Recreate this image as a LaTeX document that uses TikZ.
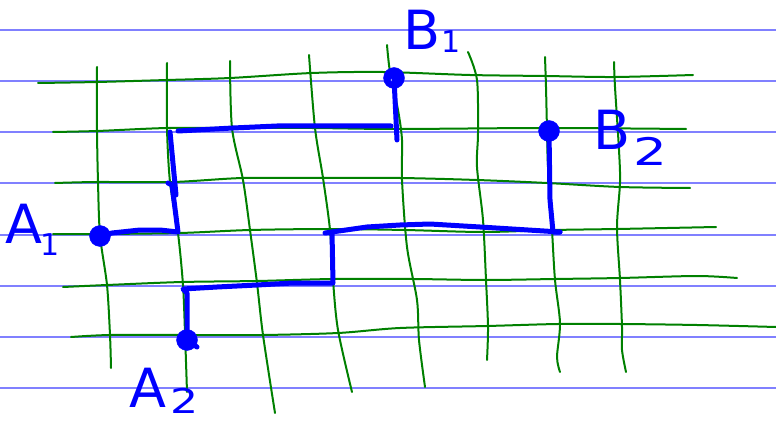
\documentclass[tikz,border=0pt]{standalone}
\usepackage{fontspec}
\setmainfont{DejaVu Sans}
\definecolor{note}{RGB}{128,128,255}
\definecolor{grn}{RGB}{0,128,0}
\definecolor{pen}{RGB}{0,0,255}
\begin{document}
\begin{tikzpicture}[x=1pt,y=-1pt,
  notebook/.style={note, line width=1.2pt},
  gridline/.style={grn, line width=2pt, line cap=round, line join=round},
  penline/.style={pen, line width=5pt, line cap=round, line join=round},
  dotnode/.style={circle, fill=pen, draw=pen, inner sep=0pt, minimum size=21pt},
  lbl/.style={pen, inner sep=0pt, anchor=base west, font=\fontsize{54}{54}\selectfont}]
\useasboundingbox (0,0) rectangle (776,422);
% notebook lines
\foreach \yy in {30,81,132,183,235,286,337,388}
  \draw[notebook] (0,\yy) -- (776,\yy);
% green horizontal lines
\draw[gridline] plot[smooth, tension=0.5] coordinates {(38,83) (97,82) (167,80) (230,78) (312,73) (383,72) (470,75) (545,76) (614,77) (693,75)};
\draw[gridline] plot[smooth, tension=0.5] coordinates {(53,132) (97,131) (167,128) (233,128) (312,128) (397,129) (545,128) (686,129)};
\draw[gridline] plot[smooth, tension=0.5] coordinates {(55,183) (97,182) (173,182) (243,178) (323,178) (400,178) (477,180) (547,183) (620,187) (690,188)};
\draw[gridline] plot[smooth, tension=0.5] coordinates {(53,234) (100,234) (180,233) (250,230) (330,229) (405,230) (483,232) (553,230) (617,229) (716,227)};
\draw[gridline] plot[smooth, tension=0.5] coordinates {(63,287) (107,285) (182,282) (257,281) (333,279) (413,279) (485,280) (555,279) (620,278) (697,276) (737,278)};
\draw[gridline] plot[smooth, tension=0.5] coordinates {(71,337) (110,335) (185,335) (262,335) (338,333) (400,328) (487,326) (558,324) (620,324) (697,325) (776,327)};
% green vertical lines
\draw[gridline] plot[smooth, tension=0.5] coordinates {(97,67) (97,130) (98,182) (100,235) (107,285) (110,335) (111,368)};
\draw[gridline] plot[smooth, tension=0.5] coordinates {(167,63) (167,128) (170,182) (178,233) (183,285) (185,333) (187,392)};
\draw[gridline] plot[smooth, tension=0.5] coordinates {(230,61) (232,128) (243,180) (250,230) (257,283) (263,335) (275,413)};
\draw[gridline] plot[smooth, tension=0.5] coordinates {(309,55) (315,128) (323,178) (330,230) (333,280) (338,330) (352,392)};
\draw[gridline] plot[smooth, tension=0.5] coordinates {(387,45) (390,72) (398,110) (402,140) (402,180) (407,247) (417,300) (419,340) (425,387)};
\draw[gridline] plot[smooth, tension=0.5] coordinates {(468,52) (477,80) (478,133) (477,167) (483,220) (486,280) (488,327) (487,360)};
\draw[gridline] plot[smooth, tension=0.5] coordinates {(545,57) (546,87) (547,130) (548,167) (552,230) (555,280) (560,323) (557,357) (560,372)};
\draw[gridline] plot[smooth, tension=0.5] coordinates {(614,62) (615,87) (619,150) (620,183) (617,227) (620,280) (622,327) (622,350) (626,372)};
% points
\node[dotnode] (A1) at (100,236) {};
\node[dotnode] (B1) at (394,78) {};
\node[dotnode] (A2) at (187,340) {};
\node[dotnode] (B2) at (549,131) {};
\fill[white] (392,80) circle (1.5pt);
% path A1 -> B1
\coordinate (c1) at (178,232);
\coordinate (c2) at (170,132);
\coordinate (c3) at (178,131);
\coordinate (c4) at (391,126);
\coordinate (c5) at (397,140);
\draw[penline] (A1.center) -- (112,233) -- (140,230) -- (160,230) -- (c1) -- (172,185) -- (168,183);
\draw[penline] (176,195) -- (c2);
\draw[penline] (c3) -- (233,128) -- (277,126) -- (c4);
\draw[penline] (B1.center) -- (c5);
% path A2 -> B2
\coordinate (d1) at (183,289);
\coordinate (d2) at (333,283);
\coordinate (d3) at (332,232);
\coordinate (d4) at (560,232);
\draw[penline] (A2.center) -- (197,347);
\draw[penline] (A2.center) -- (187,293) -- (d1) -- (217,287) -- (257,285) -- (293,283) -- (d2) -- (d3) -- (325,233);
\draw[penline] (d3) -- (367,227) -- (400,225) -- (430,224) -- (480,227) -- (d4);
\draw[penline] (d4) -- (553,232) -- (550,200) -- (B2.center);
% labels
\node[lbl] (LA1) at (5,243) {A\kern-2pt\raisebox{-13pt}{\fontsize{30}{30}\selectfont 1}};
\node[lbl] (LB1) at (403,50) {B\kern1pt\raisebox{-3pt}{\fontsize{30}{30}\selectfont 1}};
\node[lbl] (LB2) at (593,150) {B\kern3pt\raisebox{-16pt}{\fontsize{38}{38}\selectfont\scalebox{1.4}[1]{2}}};
\node[lbl] (LA2) at (129,407) {A\kern4pt\raisebox{-6pt}{\fontsize{34}{34}\selectfont\scalebox{1.3}[1]{2}}};
\end{tikzpicture}
\end{document}
